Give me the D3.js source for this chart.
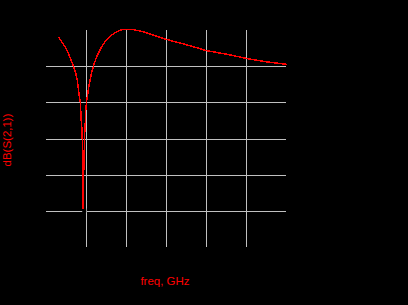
<!DOCTYPE html>
<html><head><meta charset="utf-8">
<script src="https://cdn.jsdelivr.net/npm/d3@7"></script>
<style>html,body{margin:0;padding:0;background:#000;}svg{display:block;}</style>
</head><body>
<svg id="c" width="408" height="305"></svg>
<script>
const freqGHz = [0.308,0.393,0.475,0.558,0.618,0.683,0.743,0.783,0.808,0.833,0.858,0.868,0.875,0.905,0.91,0.92,0.93,0.935,0.955,0.96,0.98,0.993,1.018,1.058,1.10,1.158,1.208,1.268,1.308,1.35,1.393,1.458,1.518,1.643,1.768,1.893,2.143,2.308,2.475,3.01,3.52,4.01,4.52,5.03,5.52,6.02];
const dbS21 = [-1.85,-3.24,-4.62,-6.44,-8.10,-9.95,-11.97,-13.83,-16.12,-18.44,-20.10,-22.12,-24.1,-28.5,-33,-37.9,-49.5,-42,-35.1,-30,-26.3,-22.12,-19.36,-16.59,-13.83,-11.06,-9.21,-7.38,-6.44,-5.53,-4.62,-3.51,-2.77,-1.38,-0.47,0.08,0.19,-0.19,-0.64,-2.6,-4.1,-5.7,-6.7,-7.9,-8.8,-9.5];
const xTicks = [1,2,3,4,5];
const yTicks = [-10,-20,-30,-40,-50];
const xLabel = "freq, GHz";
const yLabel = "dB(S(2,1))";

const svg = d3.select("#c");
svg.append("rect").attr("width",408).attr("height",305).attr("fill","#000");
const x = d3.scaleLinear().domain([0,6]).range([46,286]);
const y = d3.scaleLinear().domain([-60,0]).range([247,30]);

const g = svg.append("g").attr("shape-rendering","crispEdges");
g.selectAll("line.v").data(xTicks).join("line")
  .attr("x1",d=>Math.round(x(d))+0.5).attr("x2",d=>Math.round(x(d))+0.5)
  .attr("y1",y(0)).attr("y2",y(-60))
  .attr("stroke","#c0c0c0").attr("stroke-width",1);
g.selectAll("line.h").data(yTicks).join("line")
  .attr("y1",d=>Math.round(y(d))+0.5).attr("y2",d=>Math.round(y(d))+0.5)
  .attr("x1",x(0)).attr("x2",x(6))
  .attr("stroke","#c0c0c0").attr("stroke-width",1);

// small black marker at minimum
const iMin = dbS21.indexOf(d3.min(dbS21));
svg.append("rect").attr("x",x(freqGHz[iMin])-1).attr("y",y(dbS21[iMin])-0.5)
  .attr("width",4).attr("height",4).attr("fill","#000");

const line = d3.line().x((d,i)=>x(freqGHz[i])).y(d=>y(d));
svg.append("path").datum(dbS21).attr("d",line)
  .attr("fill","none").attr("stroke","#ff0000").attr("stroke-width",1.5)
  .attr("shape-rendering","crispEdges");

svg.append("text").attr("x",165).attr("y",285).attr("text-anchor","middle")
  .attr("font-family","Liberation Sans, Arial, sans-serif").attr("font-size",11.5)
  .attr("fill","#ff0000").text(xLabel);
svg.append("text").attr("transform","translate(11,140) rotate(-90)").attr("text-anchor","middle")
  .attr("font-family","Liberation Sans, Arial, sans-serif").attr("font-size",11.5)
  .attr("fill","#ff0000").text(yLabel);
</script>
</body></html>
